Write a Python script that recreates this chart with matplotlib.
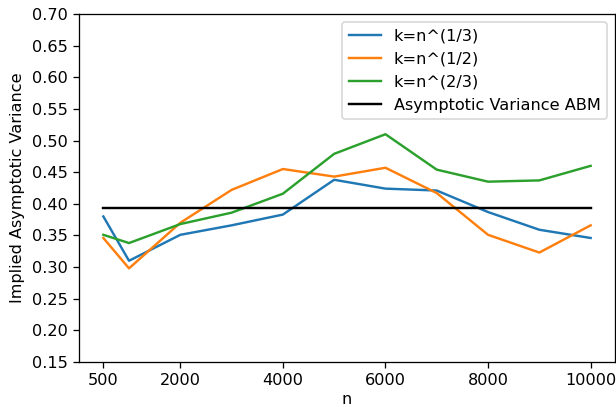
import matplotlib
matplotlib.use("Agg")
import matplotlib.pyplot as plt
import numpy as np

n = [500, 1000, 2000, 3000, 4000, 5000, 6000, 7000, 8000, 9000, 10000]
var_k13 = [0.380, 0.310, 0.351, 0.366, 0.383, 0.438, 0.424, 0.421, 0.387, 0.359, 0.346]
var_k12 = [0.346, 0.298, 0.370, 0.422, 0.455, 0.443, 0.457, 0.417, 0.351, 0.323, 0.366]
var_k23 = [0.351, 0.338, 0.368, 0.386, 0.416, 0.479, 0.510, 0.454, 0.435, 0.437, 0.460]
abm_var = 0.394

xticks = [500, 2000, 4000, 6000, 8000, 10000]
yticks = np.arange(0.15, 0.701, 0.05)

dpi = 116
fig = plt.figure(figsize=(616 / dpi, 407 / dpi), dpi=dpi)
ax = fig.add_axes([79 / 616, 1 - 362 / 407, (615 - 79) / 616, (362 - 14) / 407])

ax.plot(n, var_k13, label='k=n^(1/3)')
ax.plot(n, var_k12, label='k=n^(1/2)')
ax.plot(n, var_k23, label='k=n^(2/3)')
ax.plot(n, [abm_var] * len(n), color='black', label='Asymptotic Variance ABM')

ax.set_ylim(0.15, 0.70)
ax.set_yticks(yticks)
ax.set_xticks(xticks)
ax.set_xlabel('n', labelpad=2.5)
ax.set_ylabel('Implied Asymptotic Variance')
ax.legend(loc='upper right')

fig.savefig('out.png', dpi=dpi)
